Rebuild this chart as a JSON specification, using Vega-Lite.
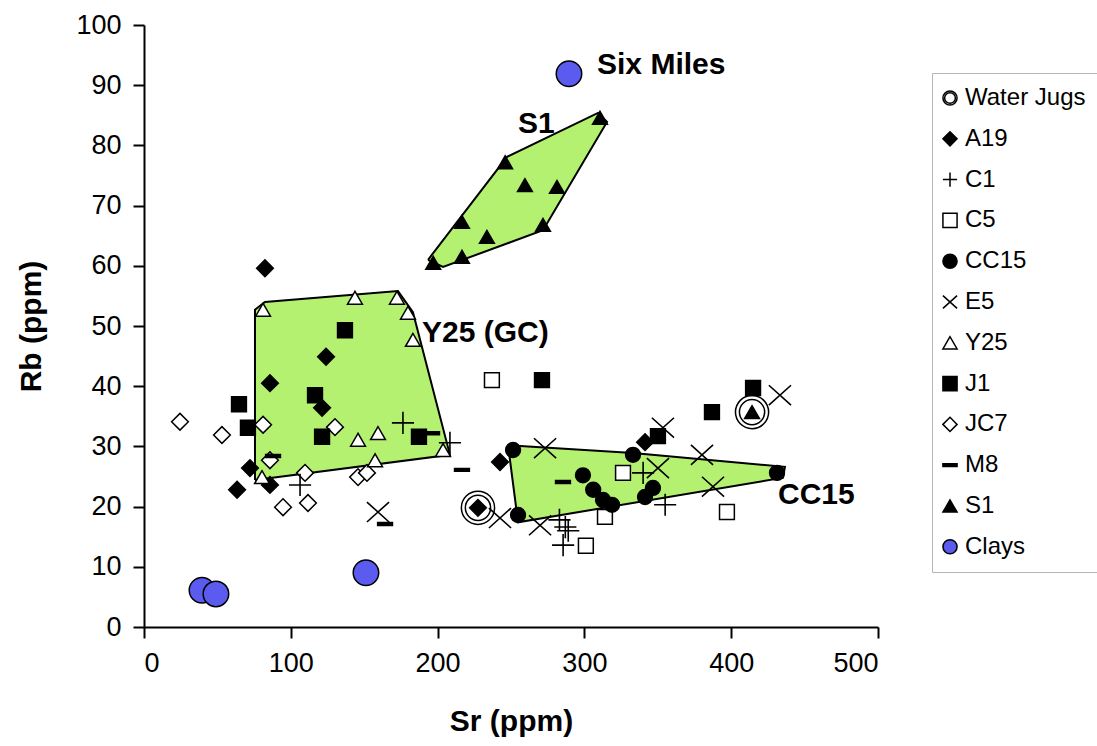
{
  "$schema": "https://vega.github.io/schema/vega-lite/v6.json",
  "autosize": {"type": "none"},
  "width": 734,
  "height": 602,
  "padding": {"left": 144, "top": 25, "right": 219, "bottom": 119},
  "background": "white",
  "config": {
    "font": "Liberation Sans",
    "view": {"stroke": null},
    "axis": {
      "grid": false,
      "domainColor": "black",
      "domainWidth": 2,
      "tickColor": "black",
      "tickWidth": 2,
      "tickSize": 11,
      "labelFont": "Liberation Sans",
      "labelFontSize": 27,
      "labelColor": "black",
      "labelPadding": 12,
      "titleFont": "Liberation Sans",
      "titleFontSize": 30,
      "titleFontWeight": "bold",
      "titleColor": "black"
    },
    "legend": {
      "symbolStrokeWidth": 1.5
    }
  },
  "datasets": {
    "polys": [
      {"poly": "S1", "i": 0, "x": 193.5, "y": 61.0},
      {"poly": "S1", "i": 1, "x": 203.7, "y": 59.8},
      {"poly": "S1", "i": 2, "x": 271.8, "y": 65.9},
      {"poly": "S1", "i": 3, "x": 315.4, "y": 83.9},
      {"poly": "S1", "i": 4, "x": 309.3, "y": 85.4},
      {"poly": "S1", "i": 5, "x": 247.3, "y": 78.1},
      {"poly": "S1", "i": 6, "x": 193.5, "y": 61.0},
      {"poly": "Y25", "i": 0, "x": 75.6, "y": 24.4},
      {"poly": "Y25", "i": 1, "x": 75.6, "y": 52.7},
      {"poly": "Y25", "i": 2, "x": 82.4, "y": 54.0},
      {"poly": "Y25", "i": 3, "x": 173.0, "y": 55.8},
      {"poly": "Y25", "i": 4, "x": 183.2, "y": 52.3},
      {"poly": "Y25", "i": 5, "x": 208.4, "y": 28.6},
      {"poly": "Y25", "i": 6, "x": 75.6, "y": 24.4},
      {"poly": "CC15", "i": 0, "x": 248.0, "y": 30.2},
      {"poly": "CC15", "i": 1, "x": 333.1, "y": 28.9},
      {"poly": "CC15", "i": 2, "x": 436.6, "y": 26.6},
      {"poly": "CC15", "i": 3, "x": 435.3, "y": 24.8},
      {"poly": "CC15", "i": 4, "x": 254.8, "y": 17.4},
      {"poly": "CC15", "i": 5, "x": 248.0, "y": 30.2}
    ],
    "jugs": [
      {"g": "Water Jugs", "x": 227.5, "y": 19.8},
      {"g": "Water Jugs", "x": 414.2, "y": 35.7}
    ],
    "diamonds": [
      {"g": "A19", "x": 82.4, "y": 59.6},
      {"g": "A19", "x": 85.8, "y": 40.5},
      {"g": "A19", "x": 124.0, "y": 44.9},
      {"g": "A19", "x": 121.3, "y": 36.4},
      {"g": "A19", "x": 72.2, "y": 26.4},
      {"g": "A19", "x": 63.4, "y": 22.8},
      {"g": "A19", "x": 85.8, "y": 23.6},
      {"g": "A19", "x": 242.5, "y": 27.4},
      {"g": "A19", "x": 227.5, "y": 19.8},
      {"g": "A19", "x": 341.3, "y": 30.7},
      {"g": "JC7", "x": 24.5, "y": 34.1},
      {"g": "JC7", "x": 53.1, "y": 31.9},
      {"g": "JC7", "x": 81.1, "y": 33.6},
      {"g": "JC7", "x": 85.8, "y": 27.7},
      {"g": "JC7", "x": 130.1, "y": 33.2},
      {"g": "JC7", "x": 109.7, "y": 25.6},
      {"g": "JC7", "x": 145.8, "y": 24.9},
      {"g": "JC7", "x": 151.9, "y": 25.6},
      {"g": "JC7", "x": 94.7, "y": 19.9},
      {"g": "JC7", "x": 111.7, "y": 20.6}
    ],
    "pts": [
      {"g": "C5", "x": 237.0, "y": 41.0},
      {"g": "C5", "x": 326.3, "y": 25.6},
      {"g": "C5", "x": 314.0, "y": 18.3},
      {"g": "C5", "x": 301.0, "y": 13.5},
      {"g": "C5", "x": 397.1, "y": 19.1},
      {"g": "CC15", "x": 251.4, "y": 29.4},
      {"g": "CC15", "x": 254.8, "y": 18.6},
      {"g": "CC15", "x": 299.0, "y": 25.2},
      {"g": "CC15", "x": 306.0, "y": 22.8},
      {"g": "CC15", "x": 312.7, "y": 21.1},
      {"g": "CC15", "x": 318.8, "y": 20.3},
      {"g": "CC15", "x": 333.1, "y": 28.6},
      {"g": "CC15", "x": 346.7, "y": 23.1},
      {"g": "CC15", "x": 341.3, "y": 21.6},
      {"g": "CC15", "x": 431.2, "y": 25.6},
      {"g": "Y25", "x": 81.1, "y": 52.7},
      {"g": "Y25", "x": 143.7, "y": 54.7},
      {"g": "Y25", "x": 172.3, "y": 54.7},
      {"g": "Y25", "x": 179.8, "y": 52.2},
      {"g": "Y25", "x": 183.2, "y": 47.7},
      {"g": "Y25", "x": 145.8, "y": 31.1},
      {"g": "Y25", "x": 159.4, "y": 32.2},
      {"g": "Y25", "x": 157.4, "y": 27.7},
      {"g": "Y25", "x": 203.7, "y": 29.4},
      {"g": "Y25", "x": 80.4, "y": 24.9},
      {"g": "J1", "x": 64.7, "y": 37.0},
      {"g": "J1", "x": 70.8, "y": 33.1},
      {"g": "J1", "x": 136.9, "y": 49.3},
      {"g": "J1", "x": 116.5, "y": 38.5},
      {"g": "J1", "x": 121.3, "y": 31.6},
      {"g": "J1", "x": 187.3, "y": 31.6},
      {"g": "J1", "x": 271.1, "y": 41.0},
      {"g": "J1", "x": 386.9, "y": 35.7},
      {"g": "J1", "x": 350.1, "y": 31.7},
      {"g": "J1", "x": 414.9, "y": 39.7},
      {"g": "M8", "x": 87.9, "y": 28.4},
      {"g": "M8", "x": 164.2, "y": 17.1},
      {"g": "M8", "x": 196.2, "y": 32.2},
      {"g": "M8", "x": 216.6, "y": 26.1},
      {"g": "M8", "x": 285.4, "y": 24.1},
      {"g": "S1", "x": 197.0, "y": 60.5},
      {"g": "S1", "x": 216.6, "y": 61.5},
      {"g": "S1", "x": 233.6, "y": 64.8},
      {"g": "S1", "x": 216.6, "y": 67.3},
      {"g": "S1", "x": 246.0, "y": 77.2},
      {"g": "S1", "x": 259.5, "y": 73.4},
      {"g": "S1", "x": 281.3, "y": 73.1},
      {"g": "S1", "x": 271.8, "y": 66.8},
      {"g": "S1", "x": 310.6, "y": 84.6},
      {"g": "S1", "x": 414.2, "y": 35.7}
    ],
    "crosses": [
      {"g": "C1", "x": 106.3, "y": 23.6},
      {"g": "C1", "x": 176.4, "y": 33.9},
      {"g": "C1", "x": 208.4, "y": 30.6},
      {"g": "C1", "x": 283.0, "y": 17.8},
      {"g": "C1", "x": 287.0, "y": 16.6},
      {"g": "C1", "x": 289.0, "y": 16.0},
      {"g": "C1", "x": 285.5, "y": 13.6},
      {"g": "C1", "x": 340.0, "y": 25.6},
      {"g": "C1", "x": 355.0, "y": 20.3},
      {"g": "E5", "x": 159.4, "y": 19.1},
      {"g": "E5", "x": 273.2, "y": 29.7},
      {"g": "E5", "x": 242.5, "y": 18.1},
      {"g": "E5", "x": 269.8, "y": 16.9},
      {"g": "E5", "x": 353.5, "y": 33.1},
      {"g": "E5", "x": 350.1, "y": 26.4},
      {"g": "E5", "x": 380.1, "y": 28.6},
      {"g": "E5", "x": 387.6, "y": 23.3},
      {"g": "E5", "x": 433.2, "y": 38.5}
    ],
    "clays": [
      {"g": "Clays", "x": 39.5, "y": 6.1},
      {"g": "Clays", "x": 49.0, "y": 5.5},
      {"g": "Clays", "x": 151.2, "y": 9.0},
      {"g": "Clays", "x": 289.5, "y": 91.9}
    ],
    "labels": [
      {"label": "Six Miles", "x": 308.6, "y": 93.4},
      {"label": "S1", "x": 254.8, "y": 83.6},
      {"label": "Y25 (GC)", "x": 189.4, "y": 48.8},
      {"label": "CC15", "x": 431.9, "y": 21.9}
    ]
  },
  "encoding": {
    "x": {"field": "x", "type": "quantitative", "scale": {"domain": [0, 500], "nice": false, "zero": false},
      "axis": {"values": [0, 100, 200, 300, 400, 500], "title": "Sr (ppm)", "titlePadding": 30}},
    "y": {"field": "y", "type": "quantitative", "scale": {"domain": [0, 100], "nice": false, "zero": false},
      "axis": {"values": [0, 10, 20, 30, 40, 50, 60, 70, 80, 90, 100], "title": "Rb (ppm)", "titlePadding": 29}}
  },
  "layer": [
    {
      "data": {"name": "polys"},
      "mark": {"type": "line", "fill": "#b4f170", "stroke": "black", "strokeWidth": 2, "interpolate": "linear"},
      "encoding": {
        "detail": {"field": "poly", "type": "nominal"},
        "order": {"field": "i", "type": "quantitative"}
      }
    },
    {
      "encoding": {
        "shape": {
          "field": "g", "type": "nominal",
          "scale": {
            "domain": ["Water Jugs", "A19", "C1", "C5", "CC15", "E5", "Y25", "J1", "JC7", "M8", "S1", "Clays"],
            "range": [
              "M1,0A1,1,0,1,1,-1,0A1,1,0,1,1,1,0ZM0.76,0A0.76,0.76,0,1,1,-0.76,0A0.76,0.76,0,1,1,0.76,0Z",
              "diamond",
              "M-1,0L1,0M0,-1L0,1",
              "square",
              "circle",
              "M-1,-0.9L1,0.9M-1,0.9L1,-0.9",
              "triangle-up",
              "square",
              "diamond",
              "M-1,-0.2L1,-0.2L1,0.2L-1,0.2Z",
              "triangle-up",
              "circle"
            ]
          },
          "legend": {
            "title": null, "orient": "none", "legendX": 788, "legendY": 48,
            "symbolSize": 200, "symbolStrokeWidth": 1.5,
            "symbolOffset": -7,
            "labelFontSize": 24, "labelFont": "Liberation Sans", "labelColor": "black",
            "labelOffset": 3, "labelLimit": 300, "rowPadding": 16.8, "padding": 13,
            "strokeColor": "#b5b5b5", "fillColor": "white"
          }
        },
        "fill": {
          "field": "g", "type": "nominal",
          "scale": {
            "domain": ["Water Jugs", "A19", "C1", "C5", "CC15", "E5", "Y25", "J1", "JC7", "M8", "S1", "Clays"],
            "range": ["transparent", "black", "transparent", "white", "black", "transparent", "white", "black", "white", "black", "black", "#5b5bf0"]
          },
          "legend": {
            "title": null, "orient": "none", "legendX": 788, "legendY": 48,
            "symbolSize": 200, "symbolStrokeWidth": 1.5,
            "symbolOffset": -7,
            "labelFontSize": 24, "labelFont": "Liberation Sans", "labelColor": "black",
            "labelOffset": 3, "labelLimit": 300, "rowPadding": 16.8, "padding": 13,
            "strokeColor": "#b5b5b5", "fillColor": "white"
          }
        },
        "stroke": {
          "field": "g", "type": "nominal",
          "scale": {
            "domain": ["Water Jugs", "A19", "C1", "C5", "CC15", "E5", "Y25", "J1", "JC7", "M8", "S1", "Clays"],
            "range": ["black", "black", "black", "black", "black", "black", "black", "black", "black", "black", "black", "black"]
          },
          "legend": {
            "title": null, "orient": "none", "legendX": 788, "legendY": 48,
            "symbolSize": 200, "symbolStrokeWidth": 1.5,
            "symbolOffset": -7,
            "labelFontSize": 24, "labelFont": "Liberation Sans", "labelColor": "black",
            "labelOffset": 3, "labelLimit": 300, "rowPadding": 16.8, "padding": 13,
            "strokeColor": "#b5b5b5", "fillColor": "white"
          }
        }
      },
      "layer": [
        {
          "data": {"name": "jugs"},
          "mark": {"type": "point", "strokeWidth": 1.5, "opacity": 1, "size": 1100}
        },
        {
          "data": {"name": "diamonds"},
          "mark": {"type": "point", "strokeWidth": 1.5, "opacity": 1, "size": 280}
        },
        {
          "data": {"name": "pts"},
          "mark": {"type": "point", "strokeWidth": 1.5, "opacity": 1, "size": 220}
        },
        {
          "data": {"name": "crosses"},
          "mark": {"type": "point", "strokeWidth": 1.6, "opacity": 1, "size": 490}
        },
        {
          "data": {"name": "clays"},
          "mark": {"type": "point", "strokeWidth": 1.5, "opacity": 1, "size": 650}
        }
      ]
    },
    {
      "data": {"name": "labels"},
      "mark": {"type": "text", "align": "left", "baseline": "middle", "font": "Liberation Sans", "fontSize": 30, "fontWeight": "bold", "color": "black"},
      "encoding": {
        "text": {"field": "label", "type": "nominal"}
      }
    }
  ]
}
